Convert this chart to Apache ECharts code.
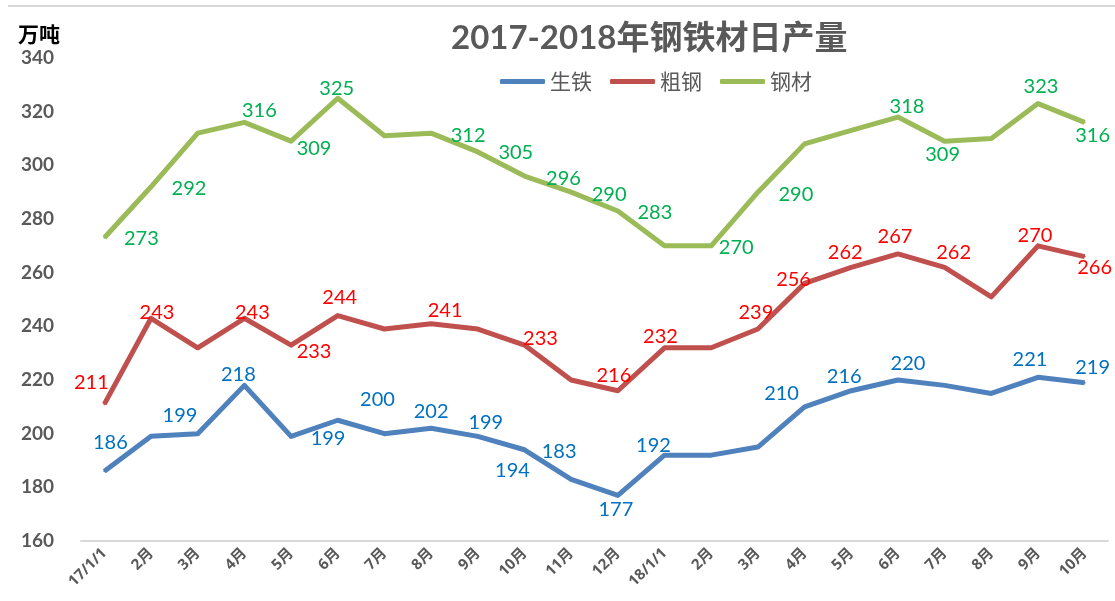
<!DOCTYPE html>
<html lang="zh" style="height: 100%">
<head>
  <meta charset="utf-8">
</head>
<body style="height: 100%; margin: 0; background: #fff">
  <div id="container" style="width: 1115px; height: 601px"></div>

  <script type="text/javascript" src="https://cdn.jsdelivr.net/npm/echarts@6/dist/echarts.min.js"></script>
  <script type="text/javascript">
    // 月份
    const months = ['17/1/1', '2月', '3月', '4月', '5月', '6月', '7月', '8月', '9月', '10月', '11月', '12月',
      '18/1/1', '2月', '3月', '4月', '5月', '6月', '7月', '8月', '9月', '10月'];
    // 日产量，万吨
    const pigIron = [186, 199, 200, 218, 199, 205, 200, 202, 199, 194, 183, 177, 192, 192, 195, 210, 216, 220, 218, 215, 221, 219];
    const crudeSteel = [211, 243, 232, 243, 233, 244, 239, 241, 239, 233, 220, 216, 232, 232, 239, 256, 262, 267, 262, 251, 270, 266];
    const steelProducts = [273, 292, 312, 316, 309, 325, 311, 312, 305, 296, 290, 283, 270, 270, 290, 308, 313, 318, 309, 310, 323, 316];
    const yTicks = [160, 340, 20]; // min, max, step

    // 数据标签的手动摆放（相对数据点的偏移, null 表示不显示）
    const labelOffsets = {
      pigIron: [[6, -29], [29, -21], null, [-6, -11], [37, 2], null, [-7, -34], [0, -17], [8, -14], [-12, 21], [-12, -28],
        [-2, 14], [-11, -10], null, null, [-23, -13], [-7, -14], [10, -16], null, null, [-8, -18], [8, -15]],
      crudeSteel: [[-13, -22], [6, -6], null, [8, -6], [23, 6], [2, -18], null, [14, -13], null, [16, -7], null,
        [-4, -15], [-4, -11], null, [-2, -16], [-11, -4], [-6, -15], [-3, -17], [9, -15], null, [-3, -10], [10, 11]],
      steelProducts: [[37, 1], [38, 2], null, [15, -12], [23, 7], [-1, -10], null, [37, 2], [38, 1], [39, 2], [38, 2],
        [37, 2], null, [25, 2], [38, 2], null, null, [9, -10], [-2, 13], null, [3, -17], [8, 13]]
    };

    const numFont = 'Lato, "Open Sans", sans-serif';
    const cjkFont = 'Lato, "Noto Sans CJK SC", sans-serif';

    const buildData = (values, offsets) =>
      values.map((v, i) => ({
        value: v,
        label: { show: !!offsets[i] }
      }));

    const makeSeries = (name, values, offsets, lineColor, labelColor) => ({
      name,
      type: 'line',
      data: buildData(values, offsets),
      showSymbol: true,
      symbol: 'circle',
      symbolSize: 2,
      lineStyle: { color: lineColor, width: 5, join: 'round' },
      itemStyle: { color: lineColor },
      label: {
        position: 'inside',
        color: labelColor,
        fontFamily: numFont,
        fontSize: 20
      },
      labelLayout: (params) => {
        const off = offsets[params.dataIndex] || [0, 0];
        return { dx: off[0], dy: off[1], hideOverlap: false };
      },
      emphasis: { disabled: true },
      silent: true,
      animation: false
    });

    const dom = document.getElementById('container');
    const myChart = echarts.init(dom, null, { renderer: 'canvas' });

    const option = {
      backgroundColor: '#fff',
      title: [
        {
          text: '2017-2018年钢铁材日产量',
          left: 446,
          top: 17,
          textStyle: {
            fontFamily: cjkFont,
            fontWeight: 'bold',
            fontSize: 33,
            color: '#595959'
          }
        },
        {
          text: '万吨',
          left: 13,
          top: 19,
          textStyle: {
            fontFamily: '"Noto Sans CJK SC", sans-serif',
            fontWeight: 'bold',
            fontSize: 21,
            color: '#000'
          }
        }
      ],
      legend: {
        top: 66,
        left: 495,
        itemWidth: 45,
        itemHeight: 5,
        itemGap: 18,
        icon: 'roundRect',
        textStyle: {
          fontFamily: '"Noto Sans CJK SC", sans-serif',
          fontSize: 21,
          color: '#595959'
        },
        data: ['生铁', '粗钢', '钢材']
      },
      graphic: [
        {
          type: 'line',
          shape: { x1: 8, y1: 6, x2: 1115, y2: 6 },
          style: { stroke: '#d9d9d9', lineWidth: 2 },
          silent: true
        }
      ],
      grid: {
        left: 81,
        right: 7,
        top: 58,
        bottom: 60,
        outerBoundsMode: 'none'
      },
      xAxis: {
        type: 'category',
        data: months,
        boundaryGap: true,
        axisLine: { lineStyle: { color: '#d9d9d9', width: 2 } },
        axisTick: { show: false },
        axisLabel: {
          rotate: 45,
          interval: 0,
          margin: 10,
          fontFamily: '"Open Sans", "Noto Sans CJK SC", sans-serif',
          fontWeight: 'bold',
          fontSize: 15,
          color: '#595959'
        },
        splitLine: { show: false }
      },
      yAxis: {
        type: 'value',
        min: yTicks[0],
        max: yTicks[1],
        interval: yTicks[2],
        axisLine: { show: false },
        axisTick: { show: false },
        splitLine: { show: false },
        axisLabel: {
          margin: 27,
          fontFamily: numFont,
          fontWeight: 'bold',
          fontSize: 19,
          color: '#595959'
        }
      },
      series: [
        makeSeries('生铁', pigIron, labelOffsets.pigIron, '#4f81bd', '#0070c0'),
        makeSeries('粗钢', crudeSteel, labelOffsets.crudeSteel, '#c0504d', '#ff0000'),
        makeSeries('钢材', steelProducts, labelOffsets.steelProducts, '#9bbb59', '#00b050')
      ]
    };

    myChart.setOption(option);
    window.addEventListener('resize', myChart.resize);
  </script>
</body>
</html>
